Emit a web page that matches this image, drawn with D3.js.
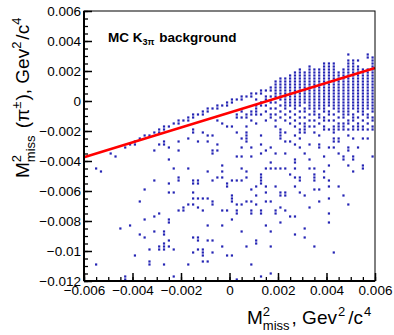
<!DOCTYPE html>
<html>
<head>
<meta charset="utf-8">
<script src="https://cdn.jsdelivr.net/npm/d3@7"></script>
<style>
  body { margin: 0; background: #fff; }
  text { font-family: "Liberation Sans", Arial, sans-serif; fill: #000; white-space: pre; }
</style>
</head>
<body>
<svg id="chart" width="394" height="335"></svg>
<script>
// tick values and labels
const xTicks = [-0.006, -0.004, -0.002, 0, 0.002, 0.004, 0.006];
const xTickLabels = ["−0.006", "−0.004", "−0.002", "0", "0.002", "0.004", "0.006"];
const yTicks = [-0.012, -0.01, -0.008, -0.006, -0.004, -0.002, 0, 0.002, 0.004, 0.006];
const yTickLabels = ["−0.012", "−0.01", "−0.008", "−0.006", "−0.004", "−0.002", "0", "0.002", "0.004", "0.006"];

// straight-line fit, end points
const fitX = [-0.006, 0.006];
const fitY = [-0.00375, 0.0022];

// MC events, one entry per x bin: [x, list of y] in units of 1e-4
const eventsLeft = [
  [-55, [-45, -109]],
  [-53, [-47]],
  [-49, [-35]],
  [-47, [-37]],
  [-45, [-85]],
  [-43, [-31, -117, -119]],
  [-41, [-29, -83]],
  [-39, [-27, -29, -103]],
  [-37, [-25, -67, -89]],
  [-35, [-23, -59, -79, -91]],
  [-33, [-23, -99, -107, -109]],
  [-31, [-21, -33, -53, -77, -87]],
  [-29, [-19, -21, -29, -75, -97, -99]],
  [-27, [-17, -19, -27, -29, -87, -89, -95, -97, -99, -109]],
  [-25, [-17, -31, -39, -55, -61, -79, -81, -93, -97]],
  [-23, [-15, -45, -61, -99, -117]],
  [-21, [-13, -15, -27, -33, -51, -53, -73]],
  [-19, [-13, -71, -73]]
];

const eventsMiddle = [
  [-17, [-11, -13, -25, -45, -69, -109]],
  [-15, [-9, -11, -19, -21, -53, -55, -61, -65, -69, -91, -101]],
  [-13, [-9, -27, -53, -55, -65, -71, -91, -93, -99]],
  [-11, [-7, -9, -21, -65, -73, -99, -101, -103, -107]],
  [-9, [-5, -7, -23, -27, -47, -65, -83, -93, -107]],
  [-7, [-5, -23, -33, -35, -53, -67, -69, -93, -101]],
  [-5, [-3, -5, -13, -29, -33, -51]],
  [-3, [-3, -15, -43, -47, -51, -73, -83, -97]],
  [-1, [-1, -3, -17, -55, -57, -73, -103]],
  [1, [1, -1, -17, -53, -63, -65, -67, -79, -103]],
  [3, [1, -9, -11, -21, -37, -53, -69, -73, -75, -119]],
  [5, [3, 1, -7, -11, -25, -31, -37, -45, -53, -69, -87]],
  [7, [3, -9, -11, -17, -21, -23, -25, -27, -47, -51, -67, -97]],
  [9, [5, 3, -7, -9, -13, -31, -37, -59, -67, -73, -75, -109]],
  [11, [5, 1, -3, -5, -7, -9, -15, -57, -63, -69, -93, -95]],
  [13, [7, 5, -1, -3, -9, -23, -29, -35, -49, -51, -53, -55, -73, -75, -117]],
  [15, [7, 3, 1, -3, -7, -13, -33, -45, -57, -61, -67, -83]],
  [17, [9, 7, 3, -1, -5, -9, -11, -31, -41, -45, -67, -87, -97, -115]]
];

const eventsRight = [
  [19, [13, 11, 9, 7, 5, 3, -1, -5, -9, -13, -17, -35, -45, -57, -73, -75]],
  [21, [15, 13, 11, 9, 7, 5, 3, 1, -3, -7, -11, -19, -21, -23, -25, -45, -61, -63, -71, -81]],
  [23, [15, 13, 11, 9, 7, 5, 3, 1, -1, -3, -5, -9, -13, -21, -27, -35, -45, -61, -63, -73]],
  [25, [17, 15, 13, 11, 9, 7, 5, 3, 1, -1, -3, -7, -11, -15, -27, -49, -77]],
  [27, [19, 17, 15, 13, 11, 9, 7, 5, 3, 1, -1, -3, -5, -9, -13, -17, -23, -29, -39, -41, -45, -51, -57, -77, -89]],
  [29, [21, 19, 17, 15, 13, 11, 9, 7, 5, 3, 1, -1, -3, -7, -11, -15, -19, -21, -25, -31, -51, -53, -61]],
  [31, [19, 17, 15, 13, 11, 9, 7, 5, 3, 1, -1, -5, -7, -11, -15, -17, -19, -21, -35, -63, -85, -91]],
  [33, [23, 21, 19, 17, 15, 13, 11, 9, 7, 5, 3, 1, -1, -3, -5, -9, -13, -17, -29, -39, -45, -71]],
  [35, [21, 19, 17, 15, 13, 11, 9, 7, 5, 3, 1, -1, -3, -5, -7, -9, -13, -17, -21, -45, -49, -51, -53, -59, -97]],
  [37, [21, 19, 17, 15, 13, 11, 9, 7, 5, 3, 1, -1, -3, -5, -9, -11, -15, -23, -29, -31, -59, -67]],
  [39, [25, 23, 21, 19, 17, 15, 13, 11, 9, 7, 5, 3, 1, -1, -3, -5, -7, -11, -13, -17, -19, -37, -47, -51]],
  [41, [25, 23, 21, 19, 17, 15, 13, 11, 9, 7, 5, 3, 1, -1, -3, -7, -9, -13, -19, -31, -43, -53, -57, -65, -75, -81]],
  [43, [25, 23, 21, 19, 17, 15, 13, 11, 9, 7, 5, 3, 1, -1, -3, -5, -9, -13, -17, -19, -21, -25, -27, -31, -101]],
  [45, [19, 17, 15, 13, 11, 9, 7, 5, 3, 1, -1, -3, -5, -7, -11, -15, -17, -19, -25, -27, -35, -57]],
  [47, [21, 19, 17, 15, 13, 11, 9, 7, 5, 3, 1, -1, -3, -5, -7, -9, -11, -15, -17, -19, -37, -39, -63]],
  [49, [31, 27, 25, 23, 21, 19, 17, 15, 13, 11, 9, 7, 5, 3, 1, -1, -3, -5, -7, -9, -13, -15, -19, -23, -31, -33, -43, -69]],
  [51, [27, 25, 23, 21, 19, 17, 15, 13, 11, 9, 7, 5, 3, 1, -1, -3, -5, -9, -11, -13, -17, -19, -25, -37, -39, -47]],
  [53, [27, 23, 21, 19, 17, 15, 13, 11, 9, 7, 5, 3, 1, -1, -3, -5, -7, -11, -15, -17, -19, -31]],
  [55, [21, 19, 17, 15, 13, 11, 9, 7, 5, 3, 1, -1, -3, -5, -7, -9, -13, -17, -19, -25, -43, -45]],
  [57, [31, 29, 21, 19, 17, 15, 13, 11, 9, 7, 5, 3, 1, -1, -3, -5, -9, -11, -15, -19, -25]],
  [59, [29, 27, 25, 23, 21, 19, 17, 15, 13, 11, 9, 7, 5, 3, 1, -1, -3, -5, -7, -11, -13, -17, -19, -37]]
];

const svg = d3.select("#chart");

// frame area
const frameL = 84, frameR = 375, frameT = 11, frameB = 281;

const x = d3.scaleLinear().domain([-0.006, 0.006]).range([frameL, frameR]);
const y = d3.scaleLinear().domain([-0.012, 0.006]).range([frameB, frameT]);

// flatten events into points
const events = eventsLeft.concat(eventsMiddle, eventsRight)
  .flatMap(([bx, ys]) => ys.map(v => ({ x: bx * 1e-4, y: v * 1e-4 })));

// markers
svg.append("g")
  .selectAll("rect")
  .data(events)
  .enter()
  .append("rect")
  .attr("x", d => x(d.x) - 1.1)
  .attr("y", d => y(d.y) - 1.1)
  .attr("width", 2.2)
  .attr("height", 2.2)
  .attr("fill", "#2424b4");

// fit line
svg.append("line")
  .attr("x1", x(fitX[0])).attr("y1", y(fitY[0]))
  .attr("x2", x(fitX[1])).attr("y2", y(fitY[1]))
  .attr("stroke", "#ff0000")
  .attr("stroke-width", 2.5);

// frame
svg.append("rect")
  .attr("x", frameL).attr("y", frameT)
  .attr("width", frameR - frameL).attr("height", frameB - frameT)
  .attr("fill", "none").attr("stroke", "#000").attr("stroke-width", 1);

// minor ticks every 0.0005
const minorX = d3.range(-60, 61, 5).map(v => v / 10000);
const minorY = d3.range(-120, 61, 5).map(v => v / 10000);

svg.append("g")
  .attr("transform", `translate(0,${frameB})`)
  .call(d3.axisBottom(x).tickValues(minorX).tickSize(-4).tickFormat(""))
  .call(g => g.select(".domain").remove())
  .selectAll("line").attr("stroke-width", 1.3);

svg.append("g")
  .attr("transform", `translate(${frameL},0)`)
  .call(d3.axisLeft(y).tickValues(minorY).tickSize(-4).tickFormat(""))
  .call(g => g.select(".domain").remove())
  .selectAll("line").attr("stroke-width", 1.3);

// major ticks with labels
const xAxis = svg.append("g")
  .attr("transform", `translate(0,${frameB})`)
  .call(d3.axisBottom(x).tickValues(xTicks).tickSize(-8).tickPadding(4)
    .tickFormat((d, i) => xTickLabels[i]));
xAxis.select(".domain").attr("stroke-width", 2).attr("d", `M${frameL},0H${frameR}`);
xAxis.selectAll("line").attr("stroke-width", 1.5);
xAxis.selectAll("text").attr("font-size", 13.5);

const yAxis = svg.append("g")
  .attr("transform", `translate(${frameL},0)`)
  .call(d3.axisLeft(y).tickValues(yTicks).tickSize(-8).tickPadding(3)
    .tickFormat((d, i) => yTickLabels[i]));
yAxis.select(".domain").attr("stroke-width", 2).attr("d", `M0,${frameT}V${frameB}`);
yAxis.selectAll("line").attr("stroke-width", 1.5);
yAxis.selectAll("text").attr("font-size", 13.5);

// draws text pieces one after another; an array is a stacked sup/sub pair
function richText(g, parts, x0, base) {
  let cx = x0;
  parts.forEach(p => {
    const group = Array.isArray(p) ? p : [p];
    let w = 0;
    group.forEach(q => {
      const t = g.append("text")
        .attr("x", cx).attr("y", base + (q.dy || 0))
        .attr("font-size", q.s)
        .attr("font-weight", q.bold ? "bold" : null)
        .text(q.t);
      w = Math.max(w, t.node().getComputedTextLength() + (q.gap || 0));
    });
    cx += w;
  });
}

const big = 19, small = 13;

// x axis title
richText(svg.append("g"), [
  { t: "M", s: big },
  [{ t: "2", s: small, dy: -8, gap: 2 }, { t: "miss", s: small, dy: 6, gap: 2 }],
  { t: ", Gev", s: big, gap: 1 },
  { t: "2", s: small, dy: -8, gap: 3 },
  { t: "/c", s: big, gap: 1 },
  { t: "4", s: small, dy: -8 }
], 247, 324);

// y axis title
richText(svg.append("g").attr("transform", "translate(29,178) rotate(-90)"), [
  { t: "M", s: big },
  [{ t: "2", s: small, dy: -8, gap: 2 }, { t: "miss", s: small, dy: 6, gap: 2 }],
  { t: " (π", s: big },
  { t: "±", s: small, dy: -8, gap: 1 },
  { t: "), Gev", s: big },
  { t: "2", s: small, dy: -8, gap: 2 },
  { t: "/c", s: big },
  { t: "4", s: small, dy: -8 }
], 0, 0);

// label inside the frame
richText(svg.append("g"), [
  { t: "MC K", s: 13.5, bold: true },
  { t: "3π", s: 9, dy: 3, bold: true, gap: 1 },
  { t: " background", s: 13.5, bold: true }
], 108, 41.5);
</script>
</body>
</html>
